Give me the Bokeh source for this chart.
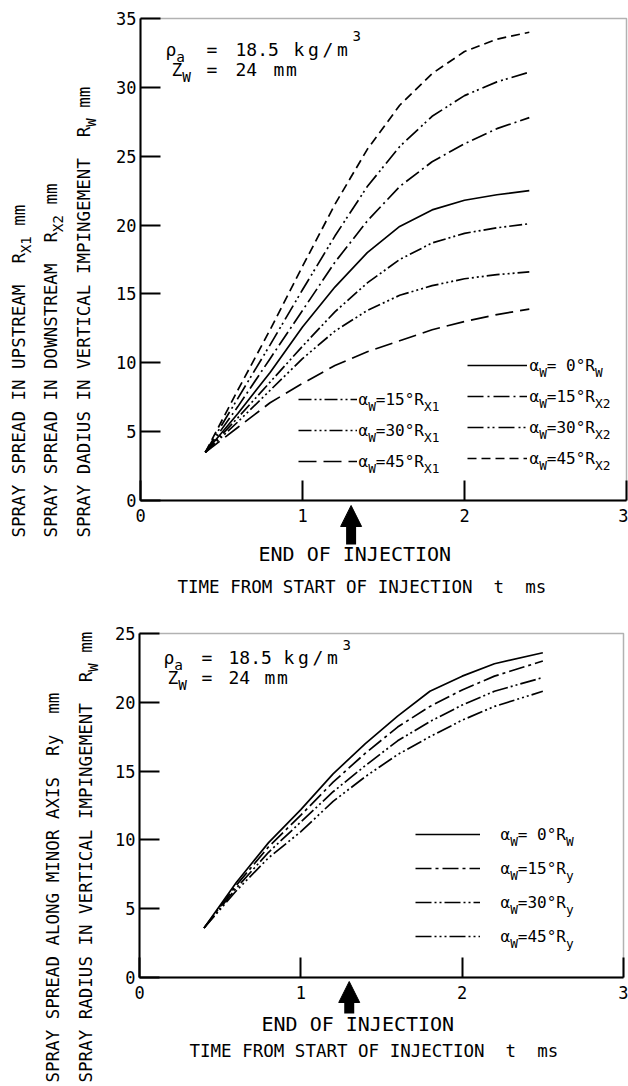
from math import pi
from bokeh.plotting import figure
from bokeh.models import (Label, Arrow, NormalHead, Legend, LegendItem, Range1d, FixedTicker,
                          LinearAxis, BoxAnnotation)
from bokeh.layouts import column
from bokeh.embed import file_html
from bokeh.resources import INLINE

FONT = "DejaVu Sans Mono"
NB = "\u00a0"

# ---------------- data ----------------
# upper chart: time from start of injection (ms)
t_upper = [0.4, 0.6, 0.8, 1.0, 1.2, 1.4, 1.6, 1.8, 2.0, 2.2, 2.4]
rw_0 = [3.5, 6.3, 9.3, 12.6, 15.5, 18.0, 19.9, 21.1, 21.8, 22.2, 22.5]
rx1_15 = [3.5, 6.0, 8.6, 11.2, 13.7, 15.8, 17.5, 18.7, 19.4, 19.8, 20.1]
rx1_30 = [3.5, 5.7, 8.0, 10.3, 12.3, 13.8, 14.9, 15.6, 16.1, 16.4, 16.6]
rx1_45 = [3.5, 5.3, 7.1, 8.5, 9.8, 10.8, 11.6, 12.4, 13.0, 13.5, 13.9]
rx2_15 = [3.5, 6.8, 10.3, 13.8, 17.3, 20.3, 22.8, 24.6, 25.9, 27.0, 27.8]
rx2_30 = [3.5, 7.4, 11.3, 15.3, 19.2, 22.8, 25.7, 27.9, 29.4, 30.4, 31.1]
rx2_45 = [3.5, 8.0, 12.4, 17.0, 21.5, 25.5, 28.7, 31.0, 32.6, 33.5, 34.0]

# lower chart
t_lower = [0.4, 0.6, 0.8, 1.0, 1.2, 1.4, 1.6, 1.8, 2.0, 2.2, 2.5]
rw_0_low = [3.6, 6.9, 9.8, 12.2, 14.8, 17.0, 19.0, 20.8, 21.9, 22.8, 23.6]
ry_15 = [3.6, 6.7, 9.5, 11.8, 14.2, 16.3, 18.2, 19.7, 20.9, 21.9, 23.0]
ry_30 = [3.6, 6.5, 9.1, 11.3, 13.5, 15.4, 17.2, 18.6, 19.8, 20.8, 21.8]
ry_45 = [3.6, 6.3, 8.7, 10.6, 12.8, 14.6, 16.2, 17.5, 18.7, 19.7, 20.8]

end_of_injection = 1.3
x_span = (0, 3)
y_span_upper = (0, 35)
y_span_lower = (0, 25)
x_ticks = [0, 1, 2, 3]
y_ticks_upper = [0, 5, 10, 15, 20, 25, 30, 35]
y_ticks_lower = [0, 5, 10, 15, 20, 25]


class Geo:
    """maps page pixels to data for a figure whose plotting box is at `box` (page px)"""
    def __init__(self, oy, w, h, box, xr, yr):
        self.oy, self.w, self.h = oy, w, h
        self.left, self.right, self.top, self.bottom = box
        self.xr, self.yr = xr, yr

    def dx(self, px):
        return self.xr[0] + (px - self.left) / (self.right - self.left) * (self.xr[1] - self.xr[0])

    def dy(self, py):
        return self.yr[0] + (self.bottom - py) / (self.bottom - self.top) * (self.yr[1] - self.yr[0])

    def x_range(self):
        return Range1d(self.dx(0), self.dx(self.w))

    def y_range(self):
        return Range1d(self.dy(self.oy + self.h), self.dy(self.oy))


def make_fig(g, yticks):
    p = figure(width=g.w, height=g.h, x_range=g.x_range(), y_range=g.y_range(),
               output_backend="svg", toolbar_location=None,
               x_axis_location=None, y_axis_location=None,
               min_border_left=0, min_border_right=0, min_border_top=0, min_border_bottom=0)
    p.grid.visible = False
    p.outline_line_color = None
    p.background_fill_color = "white"
    p.border_fill_color = "white"
    xa = LinearAxis(fixed_location=g.yr[0], bounds=g.xr, ticker=FixedTicker(ticks=x_ticks))
    ya = LinearAxis(fixed_location=g.xr[0], bounds=g.yr, ticker=FixedTicker(ticks=yticks))
    for ax in (xa, ya):
        ax.axis_line_width = 2
        ax.axis_line_color = "black"
        ax.major_tick_in = 20
        ax.major_tick_out = 0
        ax.major_tick_line_width = 2
        ax.major_tick_line_color = "black"
        ax.minor_tick_line_color = None
        ax.major_label_text_font = FONT
        ax.major_label_text_font_size = "17px"
        ax.major_label_text_color = "black"
    xa.major_label_standoff = 8
    ya.major_label_standoff = 4
    p.add_layout(xa, "below")
    p.add_layout(ya, "left")
    p.add_layout(BoxAnnotation(left=g.xr[0], right=g.xr[1], bottom=g.yr[0], top=g.yr[1],
                               fill_alpha=0, line_color="black", line_width=1.5))
    return p


def put(p, g, px, py, text, size, angle=0.0):
    p.add_layout(Label(x=g.dx(px), y=g.dy(py), text=text, angle=angle,
                       text_font=FONT, text_font_size=f"{size}px", text_color="black",
                       text_align="left", text_baseline="middle"))


def rich(p, g, px, py, parts, size, vertical=False):
    pos = 0.0
    for txt, kind in parts:
        fs = size if kind == "n" else round(size * 0.8, 1)
        off = {"n": 0.0, "sub": 0.42 * size, "sup": -0.45 * size}[kind]
        if vertical:
            put(p, g, px + off, py - pos, txt, fs, angle=pi / 2)
        else:
            put(p, g, px + pos, py + off, txt, fs)
        pos += len(txt) * 0.602 * fs


def spaced(p, g, px, py, text, size, pitch):
    for i, ch in enumerate(text):
        put(p, g, px + i * pitch, py, ch, size)


def legend_col(p, g, renderers, left_px, first_py, pitch, glyph_w):
    spacing = pitch - 20
    n = len(renderers)
    h = n * 20 + (n - 1) * spacing
    bottom_py = first_py - 10 + h
    leg = Legend(items=[LegendItem(label=" ", renderers=[r]) for r in renderers],
                 location=(left_px, g.oy + g.h - bottom_py),
                 padding=0, margin=0, spacing=spacing, glyph_width=glyph_w, glyph_height=20,
                 label_height=20, label_width=1, label_standoff=0, label_text_font_size="1px",
                 border_line_color=None, background_fill_alpha=0)
    p.add_layout(leg)


LW = 1.7
W = 628
SP2 = " " + NB  # two visible spaces

# ---------------- upper chart ----------------
g1 = Geo(0, W, 598, (140, 626, 18, 500), x_span, y_span_upper)
p1 = make_fig(g1, y_ticks_upper)

r_rw = p1.line(t_upper, rw_0, line_color="black", line_width=LW)
r_x1_15 = p1.line(t_upper, rx1_15, line_color="black", line_width=LW, line_dash="13 3 2 3 2 3")
r_x1_30 = p1.line(t_upper, rx1_30, line_color="black", line_width=LW, line_dash="13 3 2 3 2 3 2 3")
r_x1_45 = p1.line(t_upper, rx1_45, line_color="black", line_width=LW, line_dash="18 7")
r_x2_15 = p1.line(t_upper, rx2_15, line_color="black", line_width=LW, line_dash="16 4 2 4")
r_x2_30 = p1.line(t_upper, rx2_30, line_color="black", line_width=LW, line_dash="16 4 2 3 2 4")
r_x2_45 = p1.line(t_upper, rx2_45, line_color="black", line_width=LW, line_dash="9 5")

legend_col(p1, g1, [r_rw, r_x2_15, r_x2_30, r_x2_45], 467, 365, 31, 60)
legend_col(p1, g1, [r_x1_15, r_x1_30, r_x1_45], 298, 399, 31, 59)

LF = 16
for py, parts in [(365, [("α", "n"), ("W", "sub"), ("= 0°R", "n"), ("W", "sub")]),
                  (396, [("α", "n"), ("W", "sub"), ("=15°R", "n"), ("X2", "sub")]),
                  (427, [("α", "n"), ("W", "sub"), ("=30°R", "n"), ("X2", "sub")]),
                  (458, [("α", "n"), ("W", "sub"), ("=45°R", "n"), ("X2", "sub")])]:
    rich(p1, g1, 529, py, parts, LF)
for py, parts in [(399, [("α", "n"), ("W", "sub"), ("=15°R", "n"), ("X1", "sub")]),
                  (430, [("α", "n"), ("W", "sub"), ("=30°R", "n"), ("X1", "sub")]),
                  (461, [("α", "n"), ("W", "sub"), ("=45°R", "n"), ("X1", "sub")])]:
    rich(p1, g1, 358, py, parts, LF)

# condition annotation
rich(p1, g1, 165, 49, [("ρ", "n"), ("a", "sub")], 18)
put(p1, g1, 206, 49, "=", 18)
put(p1, g1, 235, 49, "18.5", 18)
spaced(p1, g1, 293, 49, "kg/m", 18, 14.5)
put(p1, g1, 352, 35, "3", 14)
rich(p1, g1, 171, 69, [("Z", "n"), ("W", "sub")], 18)
put(p1, g1, 206, 69, "=", 18)
put(p1, g1, 235, 69, "24", 18)
spaced(p1, g1, 273, 69, "mm", 18, 12.5)

# y axis titles (rotated)
YF = 17.5
rich(p1, g1, 18, 537, [("SPRAY SPREAD IN UPSTREAM" + SP2 + "R", "n"), ("X1", "sub"), (SP2 + "mm", "n")], YF, vertical=True)
rich(p1, g1, 50, 537, [("SPRAY SPREAD IN DOWNSTREAM" + SP2 + "R", "n"), ("X2", "sub"), (SP2 + "mm", "n")], YF, vertical=True)
rich(p1, g1, 83, 537, [("SPRAY DADIUS IN VERTICAL IMPINGEMENT" + SP2 + "R", "n"), ("W", "sub"), (SP2 + "mm", "n")], YF, vertical=True)

# end of injection arrow and x title
p1.add_layout(Arrow(end=NormalHead(size=21, fill_color="black", line_color="black"),
                    x_start=end_of_injection, y_start=g1.dy(544),
                    x_end=end_of_injection, y_end=g1.dy(505),
                    line_color="black", line_width=10))
put(p1, g1, 258, 553, "END OF INJECTION", 20)
put(p1, g1, 177, 586, "TIME FROM START OF INJECTION" + SP2 + "t" + SP2 + "ms", 17.5)

# ---------------- lower chart ----------------
g2 = Geo(598, W, 488, (139, 623, 633, 977), x_span, y_span_lower)
p2 = make_fig(g2, y_ticks_lower)

s_rw = p2.line(t_lower, rw_0_low, line_color="black", line_width=LW)
s_15 = p2.line(t_lower, ry_15, line_color="black", line_width=LW, line_dash="16 4 3 4")
s_30 = p2.line(t_lower, ry_30, line_color="black", line_width=LW, line_dash="16 3 2 3 2 3")
s_45 = p2.line(t_lower, ry_45, line_color="black", line_width=LW, line_dash="16 3 2 3 2 3 2 3")

legend_col(p2, g2, [s_rw, s_15, s_30, s_45], 415, 834, 34, 65)
for py, parts in [(834, [("α", "n"), ("W", "sub"), ("= 0°R", "n"), ("W", "sub")]),
                  (868, [("α", "n"), ("W", "sub"), ("=15°R", "n"), ("y", "sub")]),
                  (902, [("α", "n"), ("W", "sub"), ("=30°R", "n"), ("y", "sub")]),
                  (936, [("α", "n"), ("W", "sub"), ("=45°R", "n"), ("y", "sub")])]:
    rich(p2, g2, 500, py, parts, LF)

rich(p2, g2, 163, 657, [("ρ", "n"), ("a", "sub")], 18)
put(p2, g2, 201, 657, "=", 18)
put(p2, g2, 228, 657, "18.5", 18)
spaced(p2, g2, 283, 657, "kg/m", 18, 14.5)
put(p2, g2, 342, 644, "3", 14)
rich(p2, g2, 167, 677, [("Z", "n"), ("W", "sub")], 18)
put(p2, g2, 201, 677, "=", 18)
put(p2, g2, 228, 677, "24", 18)
spaced(p2, g2, 264, 677, "mm", 18, 12.5)

rich(p2, g2, 52, 1082, [("SPRAY SPREAD ALONG MINOR AXIS" + SP2 + "Ry" + SP2 + "mm", "n")], YF, vertical=True)
rich(p2, g2, 85, 1082, [("SPRAY RADIUS IN VERTICAL IMPINGEMENT" + SP2 + "R", "n"), ("W", "sub"), (SP2 + "mm", "n")], YF, vertical=True)

p2.add_layout(Arrow(end=NormalHead(size=21, fill_color="black", line_color="black"),
                    x_start=end_of_injection, y_start=g2.dy(1013),
                    x_end=end_of_injection, y_end=g2.dy(981),
                    line_color="black", line_width=10))
put(p2, g2, 261, 1023, "END OF INJECTION", 20)
put(p2, g2, 189, 1050, "TIME FROM START OF INJECTION" + SP2 + "t" + SP2 + "ms", 17.5)

layout = column(p1, p2, spacing=0)
open("out.html", "w").write(file_html(layout, INLINE))
